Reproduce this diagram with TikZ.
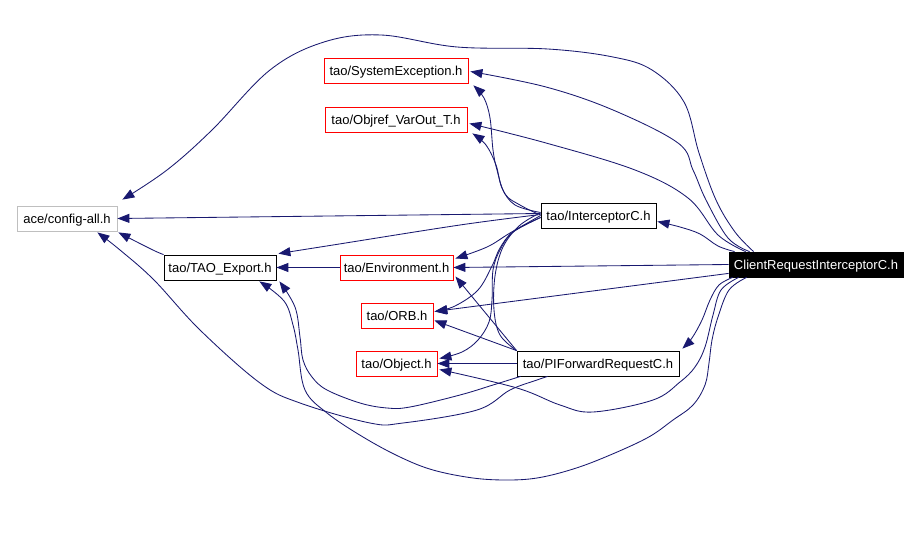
\documentclass[tikz,border=0pt]{standalone}
\usepackage{fontspec}
\setmainfont{Liberation Sans}
\usetikzlibrary{arrows.meta,calc}
\definecolor{edgec}{HTML}{191970}
\definecolor{graybox}{HTML}{BFBFBF}
\begin{document}
\begin{tikzpicture}[x=1pt,y=-1pt,
  box/.style={draw=black,rectangle,minimum height=25pt,inner sep=0pt,line width=0.8pt,
    text height=11pt,text depth=1pt,font=\fontsize{13}{15}\selectfont},
  redbox/.style={box,draw=red},
  graybx/.style={box,draw=graybox},
  mainbox/.style={box,fill=black,text=white},
  edge/.style={draw=edgec,line width=0.85pt,-{Triangle[length=12pt,width=9pt]}},
  sm/.style={smooth,tension=0.6}]
\useasboundingbox (0,0) rectangle (920,534);
\fill[white] (0,0) rectangle (920,534);

% nodes
\node[graybx,minimum width=100pt] (cfg) at (67,218.5) {ace/config-all.h};
\node[box,minimum width=112pt] (tao) at (220,267.5) {tao/TAO\_Export.h};
\node[redbox,minimum width=144pt] (sysex) at (396,70.5) {tao/SystemException.h};
\node[redbox,minimum width=142pt] (objref) at (396,119.5) {tao/Objref\_VarOut\_T.h};
\node[box,minimum width=115pt] (ic) at (598.5,215.5) {tao/InterceptorC.h};
\node[mainbox,minimum width=174pt] (cri) at (816,264.5) {ClientRequestInterceptorC.h};
\node[redbox,minimum width=113pt] (env) at (396.5,267.5) {tao/Environment.h};
\node[redbox,minimum width=72pt] (orb) at (397,315.5) {tao/ORB.h};
\node[redbox,minimum width=81pt] (obj) at (396.5,363.5) {tao/Object.h};
\node[box,minimum width=162pt] (pif) at (598,363.5) {tao/PIForwardRequestC.h};

% ClientRequestInterceptorC.h
\draw[edge] plot[sm] coordinates {($(cri.north west)+(25,0)$) (735,232) (716,200) (699,153) (684,102) (652,70) (613,57) (548,49) (457,47) (381,35) (324,42) (270,70) (212,130) (167,170) ($(cfg.north east)+(5,-6)$)};
\draw[edge] plot[sm] coordinates {($(cri.north west)+(21,0)$) (728,238) (706,200) (693,170) (678,143) (613,110) (546,87) ($(sysex.east)+(2,1)$)};
\draw[edge] plot[sm] coordinates {($(cri.north west)+(17,0)$) (718,235) (688,198) (635,170) (546,143) ($(objref.east)+(2,4)$)};
\draw[edge] plot[sm] coordinates {($(cri.north west)+(6,0)$) (718,246) (700,234) (680,227) ($(ic.east)+(1,6)$)};
\draw[edge] (cri.west) -- (env.east);
\draw[edge] ($(cri.south west)+(0,-4)$) -- ($(orb.east)+(1,-4)$);
\draw[edge] plot[sm] coordinates {($(cri.south west)+(4,0)$) (719,285) (710,300) (702,320) (692,338) ($(pif.north east)+(3,-2)$)};
\draw[edge] plot[sm] coordinates {($(cri.south west)+(10,0)$) (721,290) (713,315) (705,347) (695,367) (680,382) (653,400) (593,412) (560,405) (517,388) ($(obj.east)+(2,6)$)};
\draw[edge] plot[sm] coordinates {($(cri.south west)+(18,0)$) (729,290) (718,317) (712,340) (709,363) (705,385) (693,405) (673,420) (647,438) (603,458) (570,470) (537,478) (507,480) (473,478) (433,470) (400,457) (363,437) (327,413) (305,390) (298,350) (293,325) (284,301) ($(tao.south east)+(-17,1)$)};

% InterceptorC.h
\draw[edge] ($(ic.west)+(0,-2)$) -- (cfg.east);
\draw[edge] plot[sm] coordinates {($(ic.west)+(0,-1)$) (460,225) (333,245) ($(tao.north east)+(2,-1)$)};
\draw[edge] plot[sm] coordinates {(ic.west) (510,233) (487,247) ($(env.east)+(2,-9)$)};
\draw[edge] plot[sm] coordinates {($(ic.west)+(0,-3)$) (515,205) (502,188) (496,165) (486,145) ($(objref.south east)+(5,1)$)};
\draw[edge] plot[sm] coordinates {($(ic.west)+(0,2)$) (513,232) (500,248) (492,266) (478,290) (455,306) ($(orb.east)+(2,-4)$)};
\draw[edge] plot[sm] coordinates {($(ic.west)+(0,2)$) (513,232) (500,250) (493,270) (492,300) (489,322) (478,340) (462,352) ($(obj.east)+(2,-5)$)};

% PIForwardRequestC.h
\draw[edge] (pif.west) -- (obj.east);
\draw[edge] (pif.north west) -- ($(orb.east)+(1,5)$);
\draw[edge] (pif.north west) -- ($(env.east)+(2,9)$);
\draw[edge] plot[sm] coordinates {(pif.north west) (500,335) (494,310) (495,276) (503,247) (519,226) (538,214)}
  -- plot[sm] coordinates {(538,214) (520,205) (505,194) (497,170) (493,150) (490,118) (484,98) ($(sysex.south east)+(5,2)$)};
\draw[edge] plot[sm] coordinates {($(pif.south west)+(4,0)$) (493,385) (460,395) (410,407) (387,408) (360,403) (327,390) (312,377) (303,360) (300,337) (295,307) ($(tao.south east)+(3,1)$)};
\draw[edge] plot[sm] coordinates {($(pif.south west)+(31,0)$) (537,380) (510,390) (477,410) (403,423) (370,423) (300,403) (260,383) (200,330) (154,280) (120,250) ($(cfg.south east)+(-20,1)$)};

% others
\draw[edge] (env.west) -- (tao.east);
\draw[edge] plot[sm] coordinates {(tao.north west) (155,251) (135,241) ($(cfg.south east)+(1,1)$)};
\end{tikzpicture}
\end{document}
